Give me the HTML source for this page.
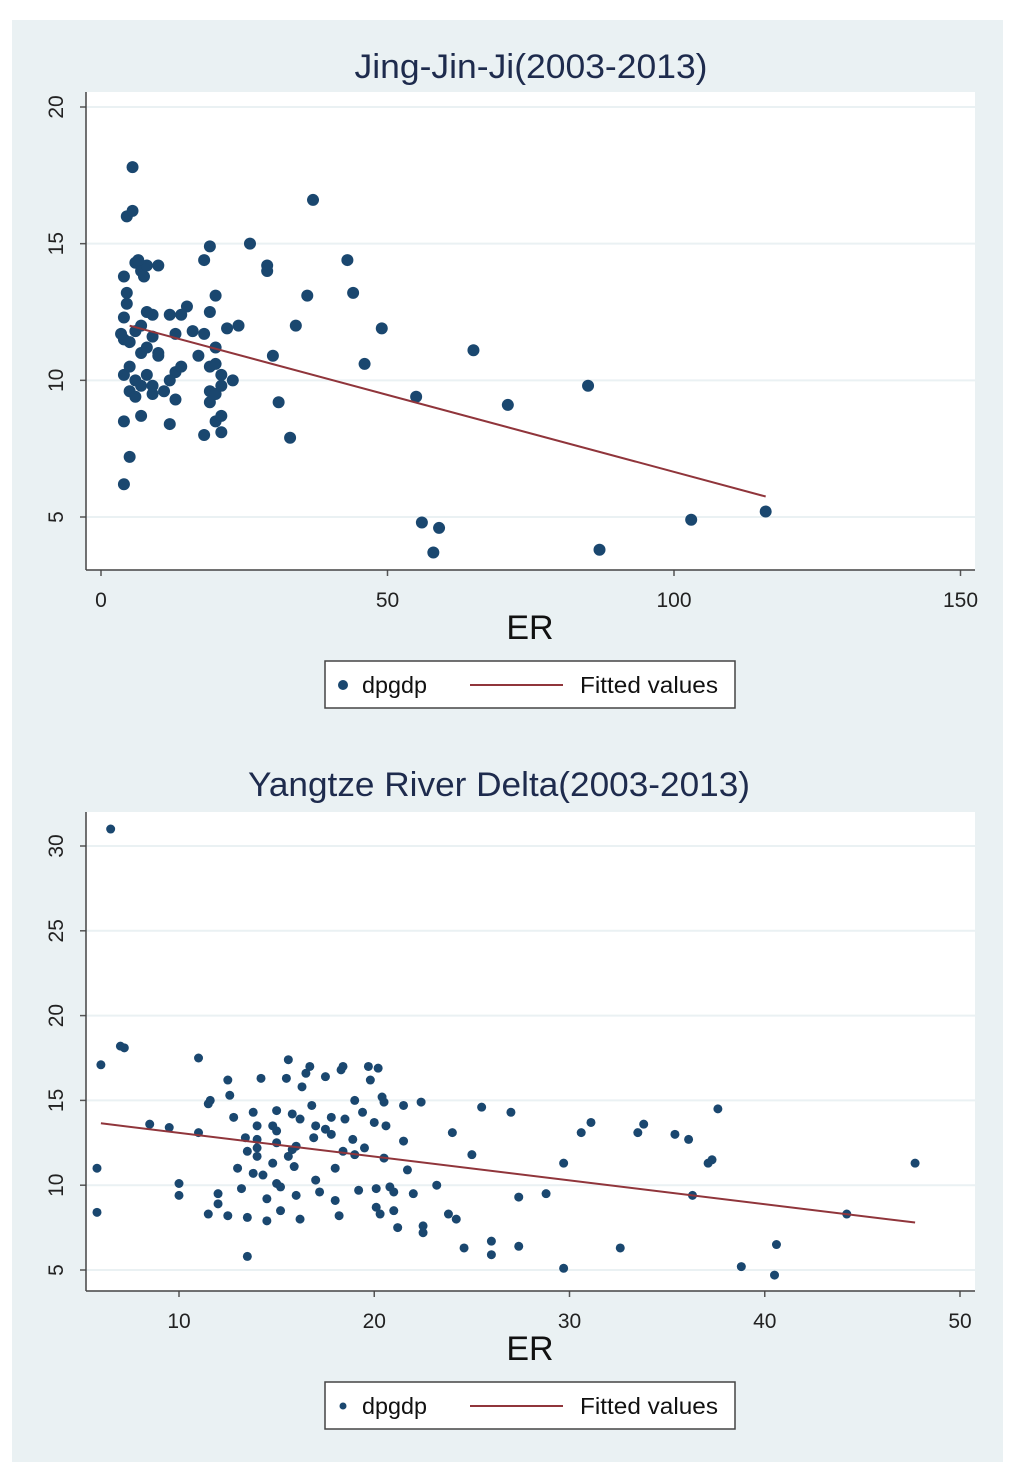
<!DOCTYPE html>
<html><head><meta charset="utf-8">
<style>
html,body{margin:0;padding:0;background:#fff;}
body{width:1024px;height:1478px;overflow:hidden;font-family:"Liberation Sans",Arial,sans-serif;}
</style></head>
<body>
<svg id="svg" width="1024" height="1478" viewBox="0 0 1024 1478" xmlns="http://www.w3.org/2000/svg">
<rect x="12" y="20" width="991" height="1442" fill="#eaf1f3"/>
<g id="top"></g>
<g id="bot"></g>
</svg>
<script>
const topX=[5.5,4.5,5.5,37,26,19,18,29,29,43,44,36,20,4,4.5,4.5,6,7,8,6.5,10,7.5,15,19,12,14,49,34,24,22,9,8,4,4,5,6,7,8,10,13,18,20,65,30,46,4,5,6,8,13,14,19,21,23,5,6,7,9,11,13,19,19,20,21,31,55,71,85,7,4,12,20,21,18,21,33,5,4,56,59,58,87,103,116,10,9,12,16,7,9,3.5,17,20];
const topY=[17.8,16,16.2,16.6,15,14.9,14.4,14.2,14,14.4,13.2,13.1,13.1,13.8,13.2,12.8,14.3,14,14.2,14.4,14.2,13.8,12.7,12.5,12.4,12.4,11.9,12,12,11.9,12.4,12.5,12.3,11.5,11.4,11.8,11,11.2,11,11.7,11.7,11.2,11.1,10.9,10.6,10.2,10.5,10,10.2,10.3,10.5,10.5,10.2,10,9.6,9.4,9.8,9.5,9.6,9.3,9.6,9.2,9.5,9.8,9.2,9.4,9.1,9.8,8.7,8.5,8.4,8.5,8.7,8,8.1,7.9,7.2,6.2,4.8,4.6,3.7,3.8,4.9,5.2,10.9,11.6,10,11.8,12,9.8,11.7,10.9,10.6];
const topFit=[[5,12.0],[116,5.75]];
const topXTicks=[0,50,100,150];
const topYTicks=[5,10,15,20];

const botX=[6.5,6,7,7.2,11,5.8,5.8,8.5,9.5,10,10,11,11.5,11.6,11.5,12,12.5,12.5,12.6,12.8,13,13.2,13.4,13.5,13.5,13.8,14,14,14,14.2,14.3,14.5,14.5,14.8,15,15,15,15.2,15.5,15.6,15.8,15.8,15.9,16,16.2,16.2,16.3,16.5,16.7,16.8,16.9,17,17.2,17.5,17.8,17.5,17.8,18,18,18.2,18.3,18.4,18.5,18.9,19,19.2,19.4,19.5,19.7,19.8,20,20.1,20.3,20.4,20.5,20.6,20.5,20.8,21,21.2,21.5,21.5,21.7,22,22.4,22.5,22.5,23.2,23.8,24,24.2,24.6,25,25.5,26,26,27,27.4,27.4,28.8,29.7,29.7,30.6,31.1,32.6,33.5,33.8,35.4,36.1,36.3,37.1,37.3,37.6,38.8,40.6,40.5,44.2,47.7,14,15,16,17,18.4,13.5,14.8,19,20.2,15.6,15.2,13.8,12,20.1,21];
const botY=[31,17.1,18.2,18.1,17.5,11,8.4,13.6,13.4,10.1,9.4,13.1,14.8,15,8.3,8.9,8.2,16.2,15.3,14,11,9.8,12.8,8.1,5.8,14.3,13.5,12.2,11.7,16.3,10.6,9.2,7.9,11.3,14.4,13.2,10.1,8.5,16.3,17.4,14.2,12.1,11.1,9.4,8,13.9,15.8,16.6,17,14.7,12.8,10.3,9.6,16.4,14,13.3,13,11,9.1,8.2,16.8,17,13.9,12.7,11.8,9.7,14.3,12.2,17,16.2,13.7,8.7,8.3,15.2,14.9,13.5,11.6,9.9,9.6,7.5,14.7,12.6,10.9,9.5,14.9,7.2,7.6,10,8.3,13.1,8,6.3,11.8,14.6,6.7,5.9,14.3,9.3,6.4,9.5,11.3,5.1,13.1,13.7,6.3,13.1,13.6,13,12.7,9.4,11.3,11.5,14.5,5.2,6.5,4.7,8.3,11.3,12.7,12.5,12.3,13.5,12,12,13.5,15,16.9,11.7,9.9,10.7,9.5,9.8,8.5];
const botFit=[[6,13.65],[47.7,7.8]];
const botXTicks=[10,20,30,40,50];
const botYTicks=[5,10,15,20,25,30];

const NS="http://www.w3.org/2000/svg";
function mk(p,tag,a){const e=document.createElementNS(NS,tag);for(const k in a)e.setAttribute(k,a[k]);p.appendChild(e);return e;}

function chart(g,cfg){
  const sx=v=>cfg.x0px+(v-cfg.x0)*(cfg.x1px-cfg.x0px)/(cfg.x1-cfg.x0);
  const sy=v=>cfg.y0px+(v-cfg.y0)*(cfg.y1px-cfg.y0px)/(cfg.y1-cfg.y0);
  const pa=mk(g,'rect',{x:cfg.L,y:cfg.T,width:cfg.R-cfg.L,height:cfg.B-cfg.T,fill:'#ffffff'});
  
  
  const t=mk(g,'text',{x:cfg.tx,y:cfg.ty,'text-anchor':'middle','font-size':34,fill:'#1e2b4d',textLength:cfg.tl,lengthAdjust:'spacingAndGlyphs'});
  t.textContent=cfg.title;
  
  
  cfg.yt.forEach(v=>{
    const y=sy(v);
    const gl=mk(g,'line',{x1:cfg.L,x2:cfg.R,y1:y,y2:y,stroke:'#eaf1f3','stroke-width':2});
    
    
    mk(g,'line',{x1:cfg.L-6,x2:cfg.L,y1:y,y2:y,stroke:'#555','stroke-width':1.5});
    const lb=mk(g,'text',{x:0,y:0,transform:`translate(${cfg.L-23},${y}) rotate(-90)`,'text-anchor':'middle','font-size':21,fill:'#222'});
    lb.textContent=v;
    
    
  });
  cfg.xt.forEach(v=>{
    const x=sx(v);
    mk(g,'line',{x1:x,x2:x,y1:cfg.B,y2:cfg.B+6,stroke:'#555','stroke-width':1.5});
    const lb=mk(g,'text',{x:x,y:cfg.B+37,'text-anchor':'middle','font-size':21,fill:'#222'});
    lb.textContent=v;
    
    
  });
  mk(g,'line',{x1:cfg.L,x2:cfg.L,y1:cfg.T,y2:cfg.B,stroke:'#444','stroke-width':1.5});
  mk(g,'line',{x1:cfg.L,x2:cfg.R,y1:cfg.B,y2:cfg.B,stroke:'#444','stroke-width':1.5});
  const xl=mk(g,'text',{x:530,y:cfg.B+69,'text-anchor':'middle','font-size':34,fill:'#111'});
  xl.textContent='ER';
  
  
  cfg.xs.forEach((v,i)=>{
    const c=mk(g,'circle',{cx:sx(v),cy:sy(cfg.ys[i]),r:cfg.r,fill:'#1a476f'});
    
    
  });
  const f=cfg.fit;
  const fl=mk(g,'line',{x1:sx(f[0][0]),y1:sy(f[0][1]),x2:sx(f[1][0]),y2:sy(f[1][1]),stroke:'#90353b','stroke-width':2});
  
  
  const ly=cfg.ly;
  const lg=mk(g,'g',{});
  
  
  mk(lg,'rect',{x:325,y:ly,width:410,height:47,fill:'#fff',stroke:'#444','stroke-width':1.5});
  mk(lg,'circle',{cx:343,cy:ly+24,r:cfg.r-1,fill:'#1a476f'});
  const a=mk(lg,'text',{x:362,y:ly+32,'font-size':23,fill:'#111',textLength:65,lengthAdjust:'spacingAndGlyphs'});a.textContent='dpgdp';
  mk(lg,'line',{x1:470,x2:563,y1:ly+24,y2:ly+24,stroke:'#90353b','stroke-width':2});
  const b=mk(lg,'text',{x:580,y:ly+32,'font-size':23,fill:'#111',textLength:138,lengthAdjust:'spacingAndGlyphs'});b.textContent='Fitted values';
}
chart(document.getElementById('top'),{L:86,R:975,T:92,B:570,x0:0,x1:100,x0px:101,x1px:674,y0:5,y1:20,y0px:517,y1px:107,
  xs:topX,ys:topY,fit:topFit,xt:topXTicks,yt:topYTicks,title:'Jing-Jin-Ji(2003-2013)',tx:531,ty:78,tl:353,r:6,ly:661});
chart(document.getElementById('bot'),{L:86,R:975,T:812,B:1291,x0:10,x1:50,x0px:179,x1px:960,y0:5,y1:30,y0px:1270,y1px:846,
  xs:botX,ys:botY,fit:botFit,xt:botXTicks,yt:botYTicks,title:'Yangtze River Delta(2003-2013)',tx:499,ty:796,tl:502,r:4.5,ly:1382});
</script>
</body></html>
